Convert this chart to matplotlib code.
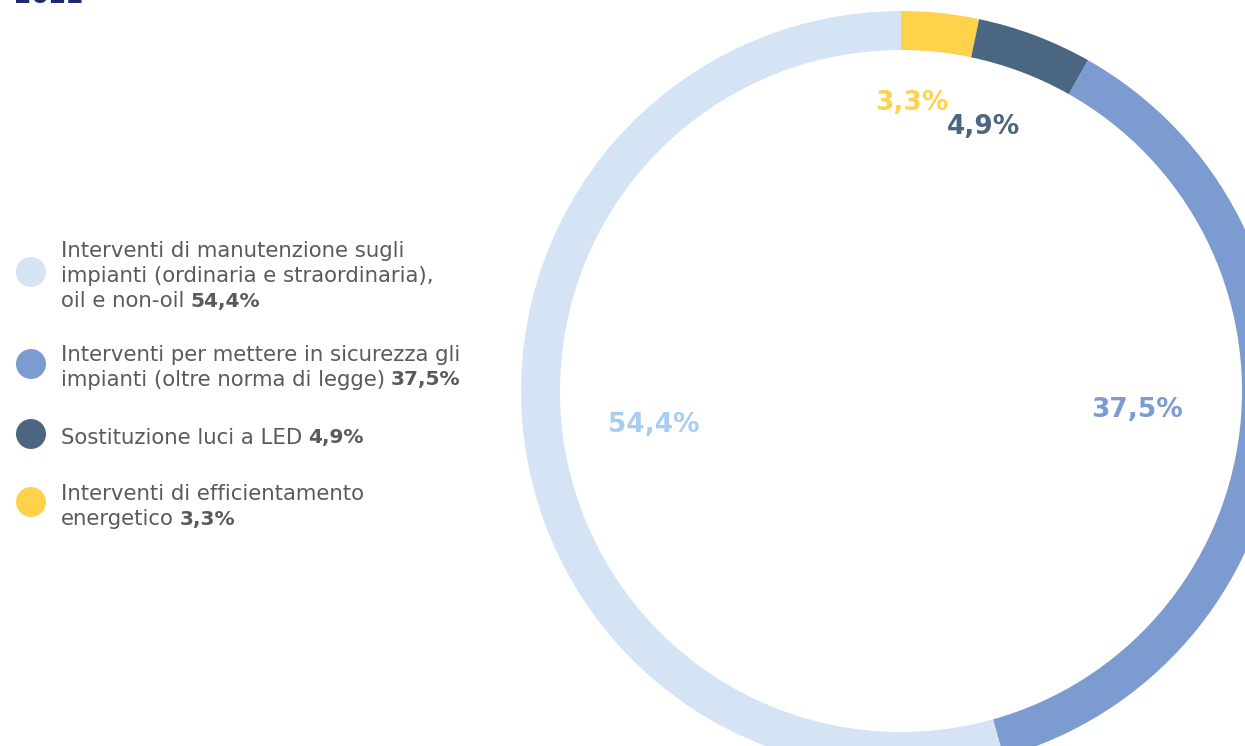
import matplotlib.pyplot as plt

plt.rcParams['font.family'] = ['DejaVu Sans']

# dati
valori = [3.3, 4.9, 37.5, 54.4]
etichette = ['3,3%', '4,9%', '37,5%', '54,4%']
colori = ['#ffd24c', '#4b6681', '#7b9bd1', '#d4e4f5']
colori_etichette = ['#ffd24c', '#4b6681', '#7b9bd1', '#a8cdf0']
pos_etichette = [(912, 103), (984, 127), (1137, 410), (654, 425)]

legenda_testi = [
    ['Interventi di manutenzione sugli', 'impianti (ordinaria e straordinaria),', 'oil e non-oil'],
    ['Interventi per mettere in sicurezza gli', 'impianti (oltre norma di legge)'],
    ['Sostituzione luci a LED'],
    ['Interventi di efficientamento', 'energetico'],
]
legenda_valori = ['54,4%', '37,5%', '4,9%', '3,3%']
legenda_colori = ['#d4e4f5', '#7b9bd1', '#4b6681', '#ffd24c']
legenda_y = [251, 355, 438, 494]
pallini_y = [272, 364, 434, 502]

W, H = 1245, 746
fig = plt.figure(figsize=(W / 100, H / 100), dpi=100)
ax = fig.add_axes([0, 0, 1, 1])

# ciambella
ax.pie(valori, colors=colori, startangle=90, counterclock=False,
       center=(901, H - 391), radius=380,
       wedgeprops=dict(width=39, linewidth=0))
ax.set_xlim(0, W)
ax.set_ylim(0, H)
ax.set_aspect('equal')
ax.axis('off')

for lab, col, (x, y) in zip(etichette, colori_etichette, pos_etichette):
    ax.text(x, H - y, lab, color=col, fontsize=19, fontweight='bold',
            ha='center', va='center')

# titolo tagliato
ax.text(14, H - 3, '2022', color='#1f2a6e', fontsize=18, fontweight='bold',
        ha='left', va='baseline')

# legenda
fig.canvas.draw()
renderer = fig.canvas.get_renderer()
grigio = '#5a5a5a'
for righe, val, col, y0, yp in zip(legenda_testi, legenda_valori, legenda_colori,
                                   legenda_y, pallini_y):
    ax.add_patch(plt.Circle((31, H - yp), 15, color=col, lw=0))
    for i, riga in enumerate(righe):
        yy = H - (y0 + i * 25)
        t = ax.text(61, yy, riga, color=grigio, fontsize=15.3,
                    ha='left', va='center')
    w = t.get_window_extent(renderer).width
    ax.text(61 + w + 6, yy, val, color=grigio, fontsize=14.5,
            fontweight='bold', ha='left', va='center')

fig.savefig('out.png', dpi=100)
